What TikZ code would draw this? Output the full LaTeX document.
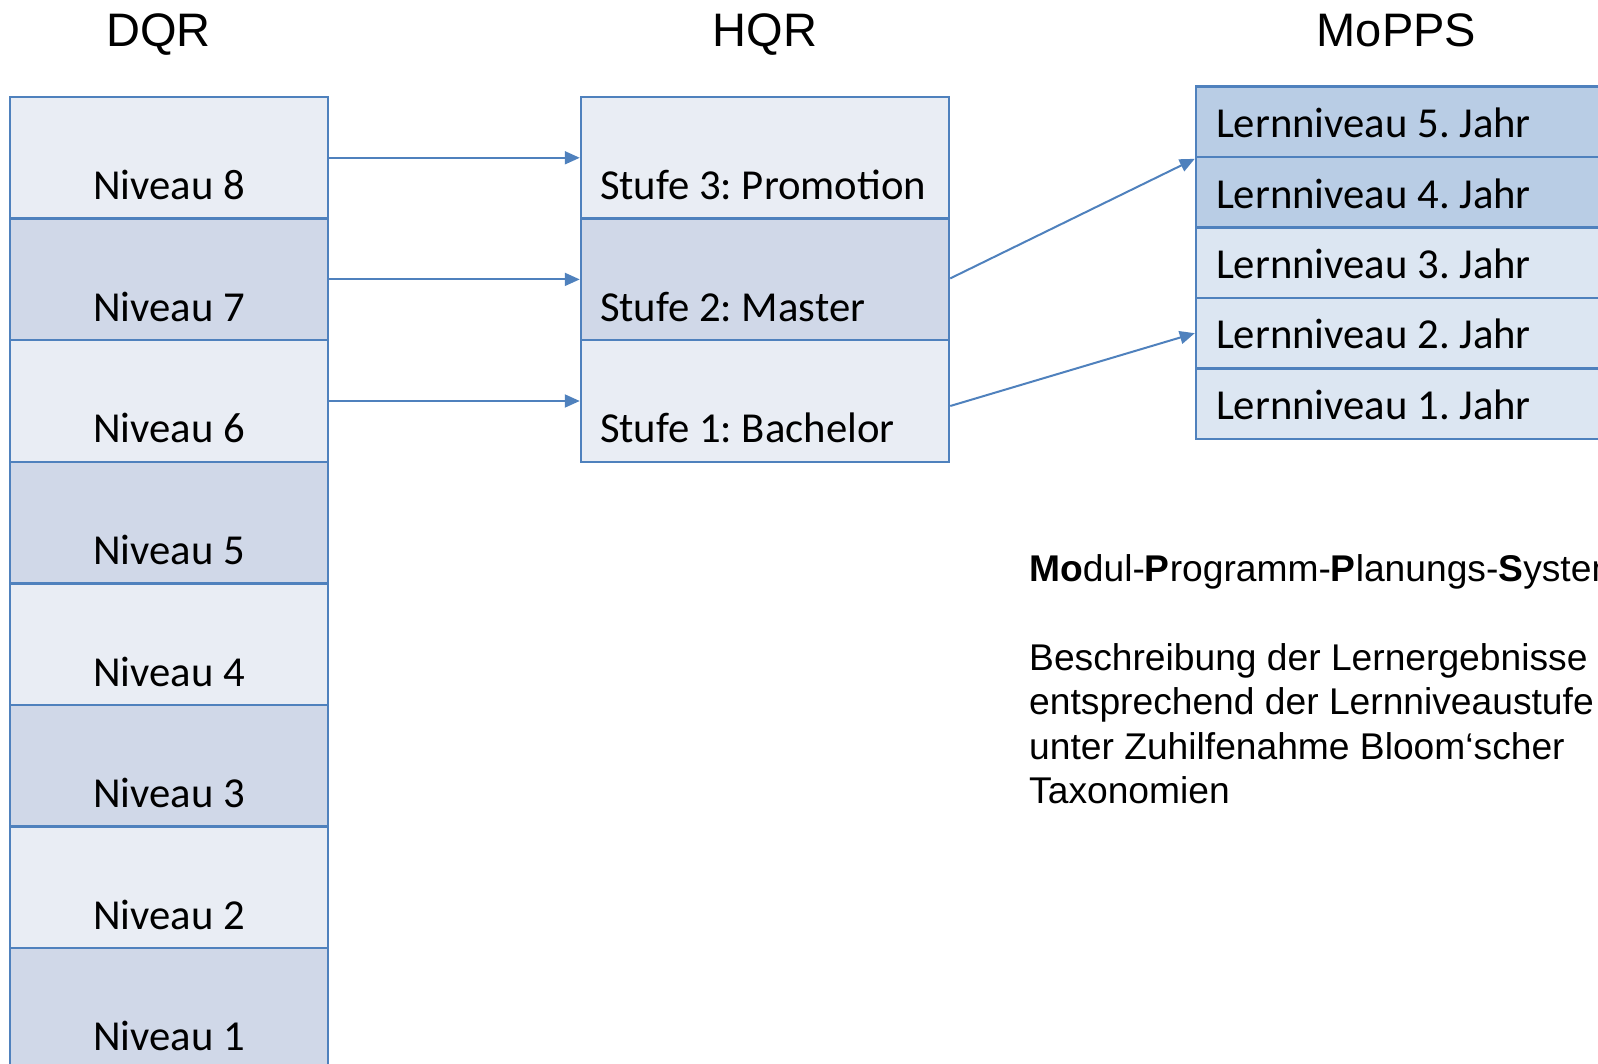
\documentclass[tikz,border=0pt]{standalone}
\usepackage{fontspec}
\setmainfont{Liberation Sans}
\newfontfamily\calib{Carlito}
\usetikzlibrary{arrows.meta}
\definecolor{bordc}{HTML}{4F81BD}
\definecolor{lightc}{HTML}{E9EDF4}
\definecolor{darkc}{HTML}{D0D8E8}
\definecolor{mopdark}{HTML}{B9CDE5}
\definecolor{moplight}{HTML}{DCE6F2}
\frenchspacing
\newcommand\hqrtext[1]{\makebox[330pt][l]{#1}}
\newcommand\moptext[1]{\makebox[404pt][l]{#1}}
\begin{document}
\begin{tikzpicture}[x=1pt,y=-1pt,
  cellfont/.style={font=\calib\fontsize{42.7pt}{51pt}\selectfont},
  dqrcell/.style={cellfont, draw=bordc, line width=2.5pt, minimum width=318pt,
    inner sep=0pt, text height=102.6pt, text depth=19pt},
  hqrcell/.style={cellfont, draw=bordc, line width=2.5pt, inner ysep=0pt, inner xsep=19pt,
    text height=102.6pt, text depth=19pt},
  mopcell/.style={cellfont, draw=bordc, line width=2.5pt, inner ysep=0pt, inner xsep=20pt,
    text height=51pt, text depth=19.45pt},
  coltitle/.style={font=\fontsize{47pt}{56pt}\selectfont, anchor=base, inner sep=0pt},
  para/.style={font=\fontsize{37.2pt}{44.5pt}\selectfont, inner sep=0pt},
  conn/.style={draw=bordc, line width=2pt, -{Triangle[length=15pt,width=13pt]}}
]
\useasboundingbox (0,0) rectangle (1598,1064);

% titles
\node[coltitle] (tdqr) at (158.5,46.7) {DQR};
\node[coltitle] (thqr) at (765,46.7) {HQR};
\node[coltitle] (tmop) at (1396.5,46.7) {MoPPS};

% DQR column
\node[dqrcell, fill=lightc] (d8) at (169,157.8) {Niveau 8};
\node[dqrcell, fill=darkc]  (d7) at (169,279.4) {Niveau 7};
\node[dqrcell, fill=lightc] (d6) at (169,401.0) {Niveau 6};
\node[dqrcell, fill=darkc]  (d5) at (169,522.6) {Niveau 5};
\node[dqrcell, fill=lightc] (d4) at (169,644.2) {Niveau 4};
\node[dqrcell, fill=darkc]  (d3) at (169,765.8) {Niveau 3};
\node[dqrcell, fill=lightc] (d2) at (169,887.4) {Niveau 2};
\node[dqrcell, fill=darkc]  (d1) at (169,1009.0) {Niveau 1};

% HQR column
\node[hqrcell, fill=lightc] (h3) at (765,157.8) {\hqrtext{Stufe 3: Promotion}};
\node[hqrcell, fill=darkc]  (h2) at (765,279.4) {\hqrtext{Stufe 2: Master}};
\node[hqrcell, fill=lightc] (h1) at (765,401.0) {\hqrtext{Stufe 1: Bachelor}};

% MoPPS column
\node[mopcell, fill=mopdark]  (m5) at (1418,121.8) {\moptext{Lernniveau 5. Jahr}};
\node[mopcell, fill=mopdark]  (m4) at (1418,192.3) {\moptext{Lernniveau 4. Jahr}};
\node[mopcell, fill=moplight] (m3) at (1418,262.7) {\moptext{Lernniveau 3. Jahr}};
\node[mopcell, fill=moplight] (m2) at (1418,333.2) {\moptext{Lernniveau 2. Jahr}};
\node[mopcell, fill=moplight] (m1) at (1418,403.6) {\moptext{Lernniveau 1. Jahr}};

% connectors
\draw[conn] (d8.east) -- (h3.west);
\draw[conn] (d7.east) -- (h2.west);
\draw[conn] (d6.east) -- (h1.west);
\draw[conn] ([yshift=1pt]h2.east) -- ([yshift=-3pt]m4.north west);
\draw[conn] ([yshift=-5pt]h1.east) -- (m2.west);

% description
\node[para, anchor=base west] (modul) at (1029,581.7)
  {\textbf{Mo}dul-\textbf{P}rogramm-\textbf{P}lanungs-\textbf{S}ystem};
\node[para, anchor=base west, align=left] (desc) at (1029,803.5)
  {Beschreibung der Lernergebnisse\\entsprechend der Lernniveaustufe\\unter Zuhilfenahme Bloom‘scher\\Taxonomien};
\end{tikzpicture}
\end{document}
